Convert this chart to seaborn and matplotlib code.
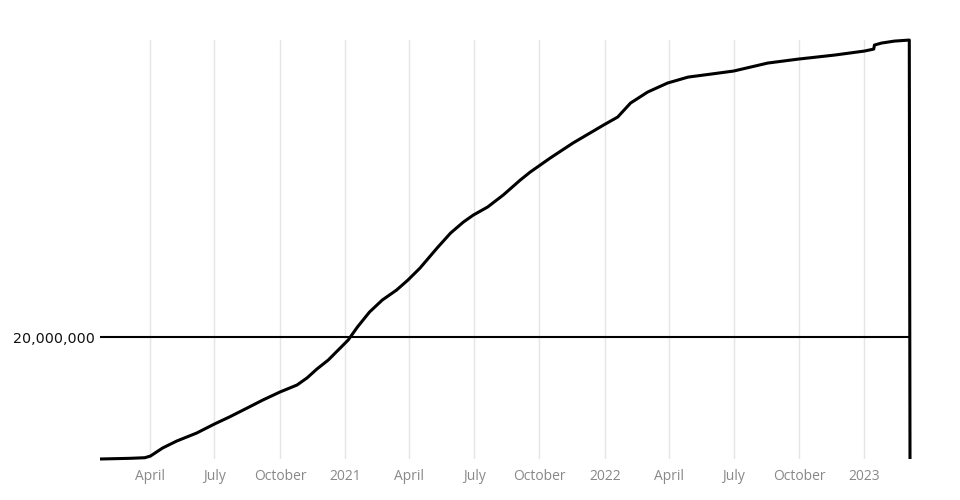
import matplotlib
matplotlib.use("Agg")
import matplotlib.pyplot as plt
import seaborn as sns
import pandas as pd

dates = ["2020-01-22", "2020-03-04", "2020-03-25", "2020-04-02", "2020-04-19",
         "2020-05-09", "2020-06-06", "2020-07-01", "2020-07-22", "2020-08-16",
         "2020-09-07", "2020-10-01", "2020-10-25", "2020-11-08", "2020-11-22",
         "2020-12-08", "2021-01-05", "2021-01-18", "2021-02-04", "2021-02-22",
         "2021-03-14", "2021-03-30", "2021-04-16", "2021-05-10", "2021-05-29",
         "2021-06-16", "2021-06-30", "2021-07-20", "2021-08-11", "2021-09-04",
         "2021-09-18", "2021-10-16", "2021-11-17", "2021-12-30", "2022-01-19",
         "2022-02-06", "2022-03-02", "2022-03-30", "2022-04-28", "2022-05-30",
         "2022-07-01", "2022-08-18", "2022-09-30", "2022-11-20", "2023-01-01",
         "2023-01-14", "2023-01-15", "2023-01-25", "2023-02-12", "2023-03-05",
         "2023-03-06"]
values_m = [0.0, 0.11, 0.21, 0.49, 1.80,
            2.95, 4.26, 5.74, 6.89, 8.36,
            9.67, 10.98, 12.13, 13.28, 14.75,
            16.23, 19.51, 21.64, 24.10, 26.07,
            27.70, 29.34, 31.31, 34.59, 37.05,
            38.85, 40.00, 41.31, 43.28, 45.74,
            47.05, 49.34, 51.80, 54.75, 56.07,
            58.36, 60.16, 61.64, 62.62, 63.11,
            63.61, 64.92, 65.57, 66.23, 66.89,
            67.21, 67.87, 68.20, 68.52, 68.69,
            0.0]
tick_dates = ["2020-04-01", "2020-07-01", "2020-10-01", "2021-01-01", "2021-04-01",
              "2021-07-01", "2021-10-01", "2022-01-01", "2022-04-01", "2022-07-01",
              "2022-10-01", "2023-01-01"]
tick_labels = ["April", "July", "October", "2021", "April", "July", "October",
               "2022", "April", "July", "October", "2023"]
y_ticks = [20_000_000]
y_tick_labels = ["20,000,000"]

df = pd.DataFrame({"date": pd.to_datetime(dates),
                   "value": [v * 1e6 for v in values_m]})

sns.set_theme(style="white")
fig = plt.figure(figsize=(9.6, 5.0), dpi=100)
ax = fig.add_axes([100 / 960, 41 / 500, 810 / 960, 419 / 500])

tick_pos = pd.to_datetime(tick_dates)
for t in tick_pos:
    ax.axvline(t, color="#e5e5e5", lw=1.0, zorder=0)
ax.axhline(y_ticks[0], color="black", lw=1.5, zorder=1)

sns.lineplot(data=df, x="date", y="value", ax=ax, color="black",
             linewidth=2.2, estimator=None, sort=False, zorder=3, clip_on=False,
             solid_joinstyle="round", solid_capstyle="butt")

ax.set_xlim(pd.Timestamp("2020-01-22"), pd.Timestamp("2023-03-06"))
ax.set_ylim(0, 68.7e6)
ax.set_xticks(tick_pos)
ax.set_xticklabels(tick_labels, fontfamily="Open Sans", fontsize=10, color="#888888")
ax.set_yticks(y_ticks)
ax.set_yticklabels(y_tick_labels, fontfamily="DejaVu Sans", fontsize=10.3, color="#111111")
ax.tick_params(axis="x", length=0, pad=7)
ax.tick_params(axis="y", length=0, pad=4)
ax.set_xlabel("")
ax.set_ylabel("")
ax.grid(False)
for s in ax.spines.values():
    s.set_visible(False)

fig.savefig("out.png", dpi=100)
